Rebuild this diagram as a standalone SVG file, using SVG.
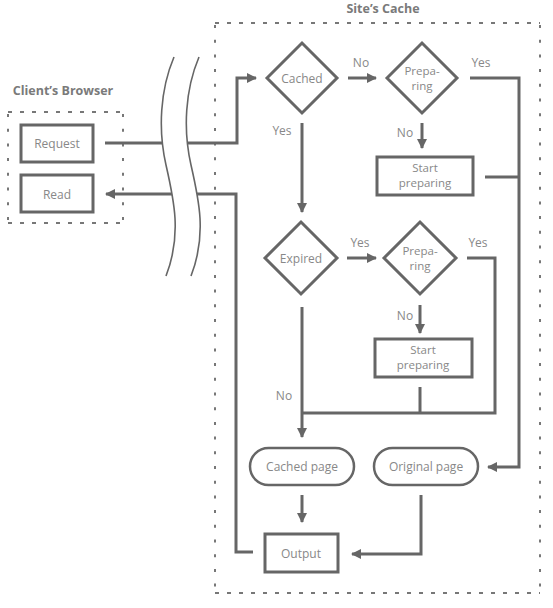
<svg xmlns="http://www.w3.org/2000/svg" width="553" height="608" viewBox="0 0 553 608">
<style>
.t{font-family:"Open Sans","Liberation Sans",sans-serif;font-size:12px;fill:#888;text-anchor:middle}
.t2{font-family:"Open Sans","Liberation Sans",sans-serif;font-size:11.5px;fill:#888;text-anchor:middle}
.h{font-family:"Open Sans","Liberation Sans",sans-serif;font-size:12.5px;font-weight:bold;fill:#7a7a7a;text-anchor:middle}
.box{fill:#fff;stroke:#666;stroke-width:3}
.pill{fill:#fff;stroke:#666;stroke-width:2.5}
.c{fill:none;stroke:#666;stroke-width:3}
.dh{stroke:#777;stroke-width:2;stroke-dasharray:4 8;fill:none}
.dv{stroke:#777;stroke-width:2;stroke-dasharray:3 11.7;fill:none}
.wave{fill:none;stroke:#666;stroke-width:1.6}
</style>
<defs>
<marker id="a" markerUnits="userSpaceOnUse" viewBox="0 0 10 10" markerWidth="10" markerHeight="10" refX="9" refY="5" orient="auto">
<path d="M0,0 L10,5 L0,10 z" fill="#666"/>
</marker>
</defs>
<rect width="553" height="608" fill="#fff"/>

<g id="site-cache-frame">
<text class="h" x="383" y="13">Site’s Cache</text>
<path class="dh" d="M215,23 H540 M215,593 H540"/>
<path class="dv" d="M215,25 V593 M540,25 V593"/>
</g>

<g id="client-frame">
<text class="h" x="63" y="95">Client’s Browser</text>
<path class="dh" d="M8,112 H123 M8,223 H123"/>
<path class="dv" d="M8,114 V223 M123,114 V223"/>
</g>

<g id="connectors">
<path class="c" d="M105,143 H237 V78 H256" marker-end="url(#a)"/>
<path class="c" d="M253,552 H236 V194 H106" marker-end="url(#a)"/>
<path class="c" d="M348,78 H376" marker-end="url(#a)"/>
<path class="c" d="M470,78 H519 V467 H488" marker-end="url(#a)"/>
<path class="c" d="M485,177 H519"/>
<path class="c" d="M422,123 V148" marker-end="url(#a)"/>
<path class="c" d="M302,123 V212" marker-end="url(#a)"/>
<path class="c" d="M347,258 H376" marker-end="url(#a)"/>
<path class="c" d="M467,258 H495 V413 H302"/>
<path class="c" d="M420,305 V333" marker-end="url(#a)"/>
<path class="c" d="M420,387 V413"/>
<path class="c" d="M302,307 V437" marker-end="url(#a)"/>
<path class="c" d="M302,495 V522" marker-end="url(#a)"/>
<path class="c" d="M421,495 V554 H352" marker-end="url(#a)"/>
<text class="t" x="361" y="67">No</text>
<text class="t" x="481" y="67">Yes</text>
<text class="t" x="282" y="135">Yes</text>
<text class="t" x="405" y="137">No</text>
<text class="t" x="360" y="247">Yes</text>
<text class="t" x="478" y="247">Yes</text>
<text class="t" x="405" y="320">No</text>
<text class="t" x="284" y="400">No</text>
</g>

<g id="break">
<path d="M174,57 C160,90 158,130 166,165 C174,200 182,235 166,276 L191,276 C207,235 199,200 191,165 C183,130 185,90 199,57 Z" fill="#fff"/>
<path class="wave" d="M174,57 C160,90 158,130 166,165 C174,200 182,235 166,276"/>
<path class="wave" d="M199,57 C185,90 183,130 191,165 C199,200 207,235 191,276"/>
</g>

<g id="request">
<rect class="box" x="21" y="125" width="72" height="37"/>
<text class="t" x="57" y="148">Request</text>
</g>
<g id="read">
<rect class="box" x="21" y="175" width="72" height="37"/>
<text class="t" x="57" y="199">Read</text>
</g>

<g id="cached">
<polygon class="box" points="267,78 302,43 337,78 302,113"/>
<text class="t" x="302" y="83">Cached</text>
</g>
<g id="preparing1">
<polygon class="box" points="387,78 422,43 457,78 422,113"/>
<text class="t2" x="422" y="74.6">Prepa-<tspan x="422" dy="15.8">ring</tspan></text>
</g>
<g id="start1">
<rect class="box" x="377" y="157" width="96" height="38"/>
<text class="t2" x="425" y="171.6">Start<tspan x="425" dy="15.8">preparing</tspan></text>
</g>

<g id="expired">
<polygon class="box" points="265,258 301,222 337,258 301,294"/>
<text class="t" x="301" y="263">Expired</text>
</g>
<g id="preparing2">
<polygon class="box" points="384,258 420,222 456,258 420,294"/>
<text class="t2" x="420" y="254.6">Prepa-<tspan x="420" dy="15.8">ring</tspan></text>
</g>
<g id="start2">
<rect class="box" x="375" y="339" width="97" height="38"/>
<text class="t2" x="423" y="353.6">Start<tspan x="423" dy="15.8">preparing</tspan></text>
</g>

<g id="cached-page">
<rect class="pill" x="250" y="448" width="104" height="37" rx="18.5"/>
<text class="t" x="302" y="471">Cached page</text>
</g>
<g id="original-page">
<rect class="pill" x="374" y="448" width="104" height="37" rx="18.5"/>
<text class="t" x="426" y="471">Original page</text>
</g>
<g id="output">
<rect class="box" x="265" y="534" width="73" height="38"/>
<text class="t" x="301" y="558">Output</text>
</g>
</svg>
